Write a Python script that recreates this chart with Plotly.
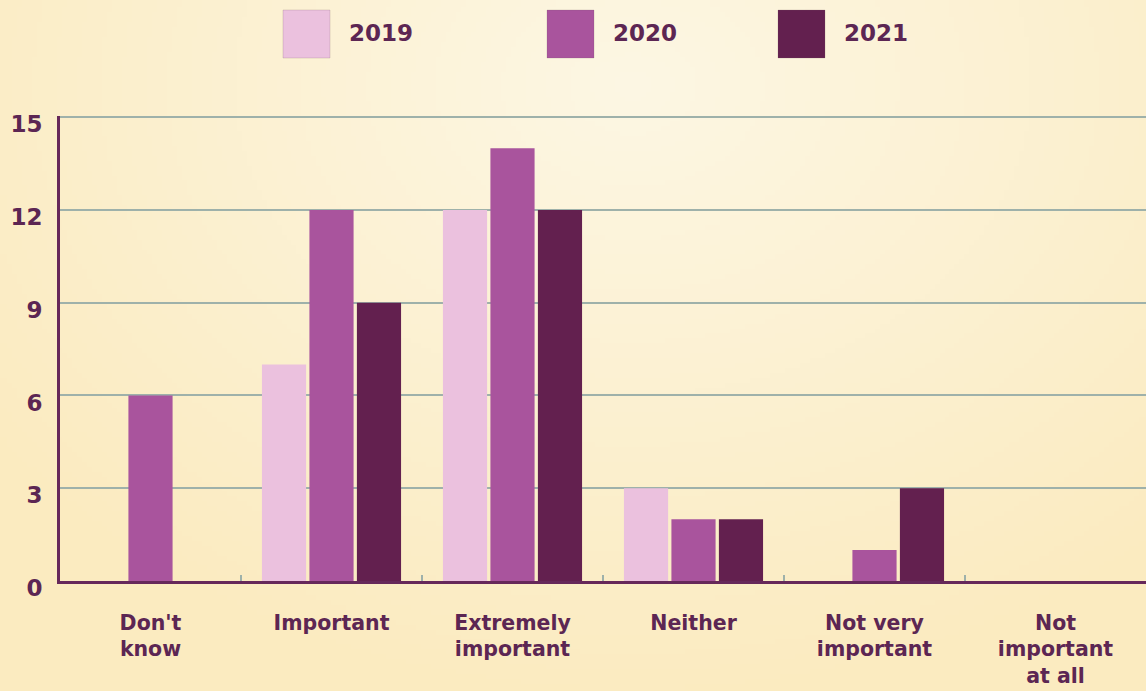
import base64
import struct
import zlib

import numpy as np
import plotly.graph_objects as go

categories = ["Don't<br>know", "Important", "Extremely<br>important", "Neither",
              "Not very<br>important", "Not<br>important<br>at all"]
years = ["2019", "2020", "2021"]
values_2019 = [0, 7, 12, 3, 0, 0]
values_2020 = [6, 12, 14, 2, 1, 0]
values_2021 = [0, 9, 12, 2, 3, 0]
y_ticks = [0, 3, 6, 9, 12, 15]

series = [values_2019, values_2020, values_2021]
colors = ["#ebc1de", "#a9549d", "#63204f"]
text_color = "#5c2653"
grid_color = "#9eb1aa"
axis_color = "#66285a"

W, H = 1146, 691
L, R, T, B = 60, 0, 116, 110
plot_w = W - L - R
plot_h = H - T - B
y_max = 15.04  # a hair above the top tick so its gridline is drawn in full


def px_to_paper(x, y):
    return (x - L) / plot_w, (H - B - y) / plot_h


def gradient_png(w, h):
    """Soft radial cream gradient, lighter toward the upper middle."""
    yy, xx = np.mgrid[0:h, 0:w]
    cx, cy = w * 0.55, h * 0.12
    d = np.sqrt(((xx - cx) / (w * 0.7)) ** 2 + ((yy - cy) / (h * 0.9)) ** 2)
    t = np.clip(d, 0, 1)
    inner = np.array([253, 247, 228], float)
    outer = np.array([251, 235, 192], float)
    img = inner[None, None, :] * (1 - t[..., None]) + outer[None, None, :] * t[..., None]
    img = img.astype(np.uint8)
    raw = b"".join(b"\x00" + img[r].tobytes() for r in range(h))

    def chunk(tag, data):
        c = struct.pack(">I", len(data)) + tag + data
        return c + struct.pack(">I", zlib.crc32(tag + data) & 0xFFFFFFFF)

    png = b"\x89PNG\r\n\x1a\n"
    png += chunk(b"IHDR", struct.pack(">IIBBBBB", w, h, 8, 2, 0, 0, 0))
    png += chunk(b"IDAT", zlib.compress(raw, 9))
    png += chunk(b"IEND", b"")
    return "data:image/png;base64," + base64.b64encode(png).decode()


fig = go.Figure()
for name, vals, col in zip(years, series, colors):
    fig.add_trace(go.Bar(x=categories, y=vals, name=name, marker_color=col,
                         marker_line_width=0, showlegend=False))

font = "DejaVu Sans"

shapes = []
annotations = []

# legend swatches drawn as shapes with labels beside them
swatch_left = [283, 547, 778]
for name, col, x0 in zip(years, colors, swatch_left):
    px0, py0 = px_to_paper(x0, 58)
    px1, py1 = px_to_paper(x0 + 47, 10)
    shapes.append(dict(type="rect", xref="paper", yref="paper", x0=px0, x1=px1,
                       y0=py0, y1=py1, fillcolor=col,
                       line=dict(width=0.6, color="rgba(120,90,100,0.35)")))
    tx, ty = px_to_paper(x0 + 64, 33)
    annotations.append(dict(xref="paper", yref="paper", x=tx, y=ty, text=name,
                            showarrow=False, xanchor="left", yanchor="middle",
                            font=dict(family=font, size=23, color=text_color, weight="bold")))

bx0, by0 = px_to_paper(0, H)
fig.update_layout(
    width=W, height=H,
    margin=dict(l=L, r=R, t=T, b=B),
    paper_bgcolor="#fbeac0",
    plot_bgcolor="rgba(0,0,0,0)",
    barmode="group",
    bargap=0.213,
    bargroupgap=0.07,
    shapes=shapes,
    annotations=annotations,
    images=[dict(source=gradient_png(230, 140), xref="paper", yref="paper",
                 x=bx0, y=by0 + H / plot_h, sizex=W / plot_w, sizey=H / plot_h,
                 xanchor="left", yanchor="top", sizing="stretch", layer="below")],
    font=dict(family=font, color=text_color),
)
fig.update_xaxes(
    range=[-0.5, len(categories) - 0.5],
    automargin=False,
    showline=True, linecolor=axis_color, linewidth=3,
    ticks="inside", tickson="boundaries", ticklen=6, tickcolor=grid_color, tickwidth=1.5,
    tickfont=dict(family=font, size=20.5, color=text_color, weight="bold"),
    ticklabelstandoff=21,
    showgrid=False, fixedrange=True,
)
fig.update_yaxes(
    range=[0, y_max], tickvals=y_ticks,
    automargin=False,
    showline=True, linecolor=axis_color, linewidth=3,
    showgrid=True, gridcolor=grid_color, gridwidth=2,
    zeroline=False, ticks="",
    tickfont=dict(family=font, size=23, color=text_color, weight="bold"),
    ticklabelstandoff=10, ticklabelshift=7,
    fixedrange=True,
)

fig.write_html("out.html")
